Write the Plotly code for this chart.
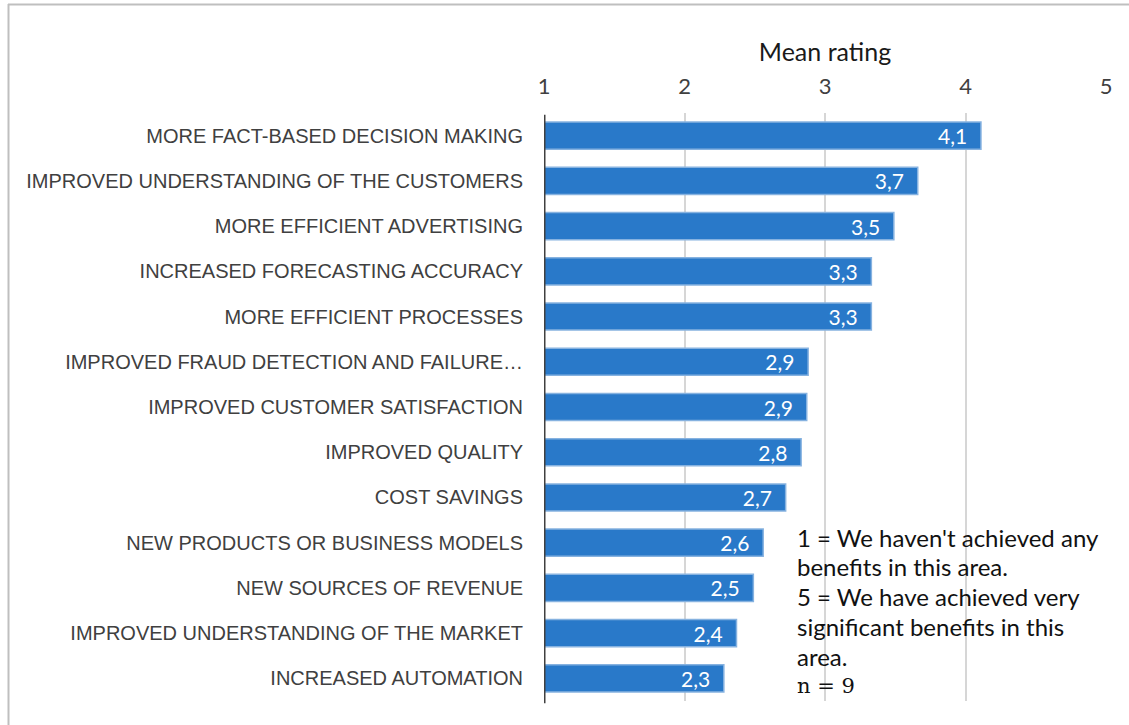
import plotly.graph_objects as go

# Benefit areas, listed top to bottom
categories = [
    "MORE FACT-BASED DECISION MAKING",
    "IMPROVED UNDERSTANDING OF THE CUSTOMERS",
    "MORE EFFICIENT ADVERTISING",
    "INCREASED FORECASTING ACCURACY",
    "MORE EFFICIENT PROCESSES",
    "IMPROVED FRAUD DETECTION AND FAILURE…",
    "IMPROVED CUSTOMER SATISFACTION",
    "IMPROVED QUALITY",
    "COST SAVINGS",
    "NEW PRODUCTS OR BUSINESS MODELS",
    "NEW SOURCES OF REVENUE",
    "IMPROVED UNDERSTANDING OF THE MARKET",
    "INCREASED AUTOMATION",
]

# Mean rating on a 1–5 scale
mean_rating = [4.11, 3.66, 3.49, 3.33, 3.33, 2.88, 2.87, 2.83, 2.72, 2.56, 2.49, 2.37, 2.28]

scale_ticks = [1, 2, 3, 4, 5]

note_lines = [
    "1 = We haven't achieved any",
    "benefits in this area.",
    "5 = We have achieved very",
    "significant benefits in this",
    "area.",
]
sample_note = "n = 9"

W, H = 1129, 725
L, R, T, B = 544, 1106, 113, 701  # plot area in pixels


def px_x(p):
    return (p - L) / (R - L)


def px_y(p):
    return (B - p) / (B - T)


label_font = "Liberation Sans Narrow, Arial Narrow, sans-serif"
body_font = "Lato, Carlito, Calibri, sans-serif"

fig = go.Figure(
    go.Bar(
        y=categories,
        x=[v - 1 for v in mean_rating],
        base=1,
        customdata=mean_rating,
        orientation="h",
        marker=dict(color="#2979c9", line=dict(color="#86b2e0", width=1.5)),
        texttemplate="%{customdata:.1f}\u00a0\u00a0",
        textposition="inside",
        insidetextanchor="end",
        constraintext="none",
        textfont=dict(family=body_font, size=21, color="white"),
        width=0.6,
        hoverinfo="skip",
    )
)

fig.update_layout(
    width=W,
    height=H,
    margin=dict(l=L, r=W - R, t=T, b=H - B, pad=0),
    plot_bgcolor="white",
    paper_bgcolor="white",
    separators=", ",
    showlegend=False,
    uniformtext=dict(mode=False),
    xaxis=dict(
        side="top",
        range=[1, 5],
        tickvals=scale_ticks,
        ticktext=[str(t) for t in scale_ticks],
        tickfont=dict(family=body_font, size=22, color="#404040"),
        showgrid=True,
        gridcolor="#d6d6d6",
        gridwidth=1.5,
        zeroline=False,
        showline=False,
        ticks="",
        ticklabelstandoff=14,
        title=dict(
            text="Mean rating",
            font=dict(family=body_font, size=25, color="#1a1a1a"),
            standoff=2,
        ),
        fixedrange=True,
    ),
    yaxis=dict(
        autorange="reversed",
        categoryorder="array",
        categoryarray=categories,
        tickfont=dict(family=label_font, size=20, color="#404040"),
        ticks="",
        showgrid=False,
        zeroline=False,
        showline=False,
        ticklabelstandoff=20,
        fixedrange=True,
    ),
)

# Vertical axis line at the base of the bars
fig.add_shape(
    type="line", xref="x", yref="paper", x0=1, x1=1, y0=-0.004, y1=0.997,
    line=dict(color="#404040", width=3),
)

# Chart border (top and left edges)
fig.add_shape(
    type="line", xref="paper", yref="paper",
    x0=px_x(8), x1=px_x(W + 5), y0=px_y(4.5), y1=px_y(4.5),
    line=dict(color="#bfbfbf", width=2),
)
fig.add_shape(
    type="line", xref="paper", yref="paper",
    x0=px_x(8.5), x1=px_x(8.5), y0=px_y(4), y1=px_y(H + 5),
    line=dict(color="#bfbfbf", width=2),
)

# Scale explanation block
line_tops = [537, 566, 596, 626, 656]
for text, top in zip(note_lines, line_tops):
    fig.add_annotation(
        xref="paper", yref="paper", x=px_x(795), y=px_y(top),
        xanchor="left", yanchor="middle", showarrow=False,
        text=text, font=dict(family=body_font, size=24, color="#111111"),
    )
fig.add_annotation(
    xref="paper", yref="paper", x=px_x(795), y=px_y(686),
    xanchor="left", yanchor="middle", showarrow=False,
    text=sample_note, font=dict(family="DejaVu Serif, Liberation Serif, serif", size=21, color="#111111"),
)

fig.write_html("out.html")
